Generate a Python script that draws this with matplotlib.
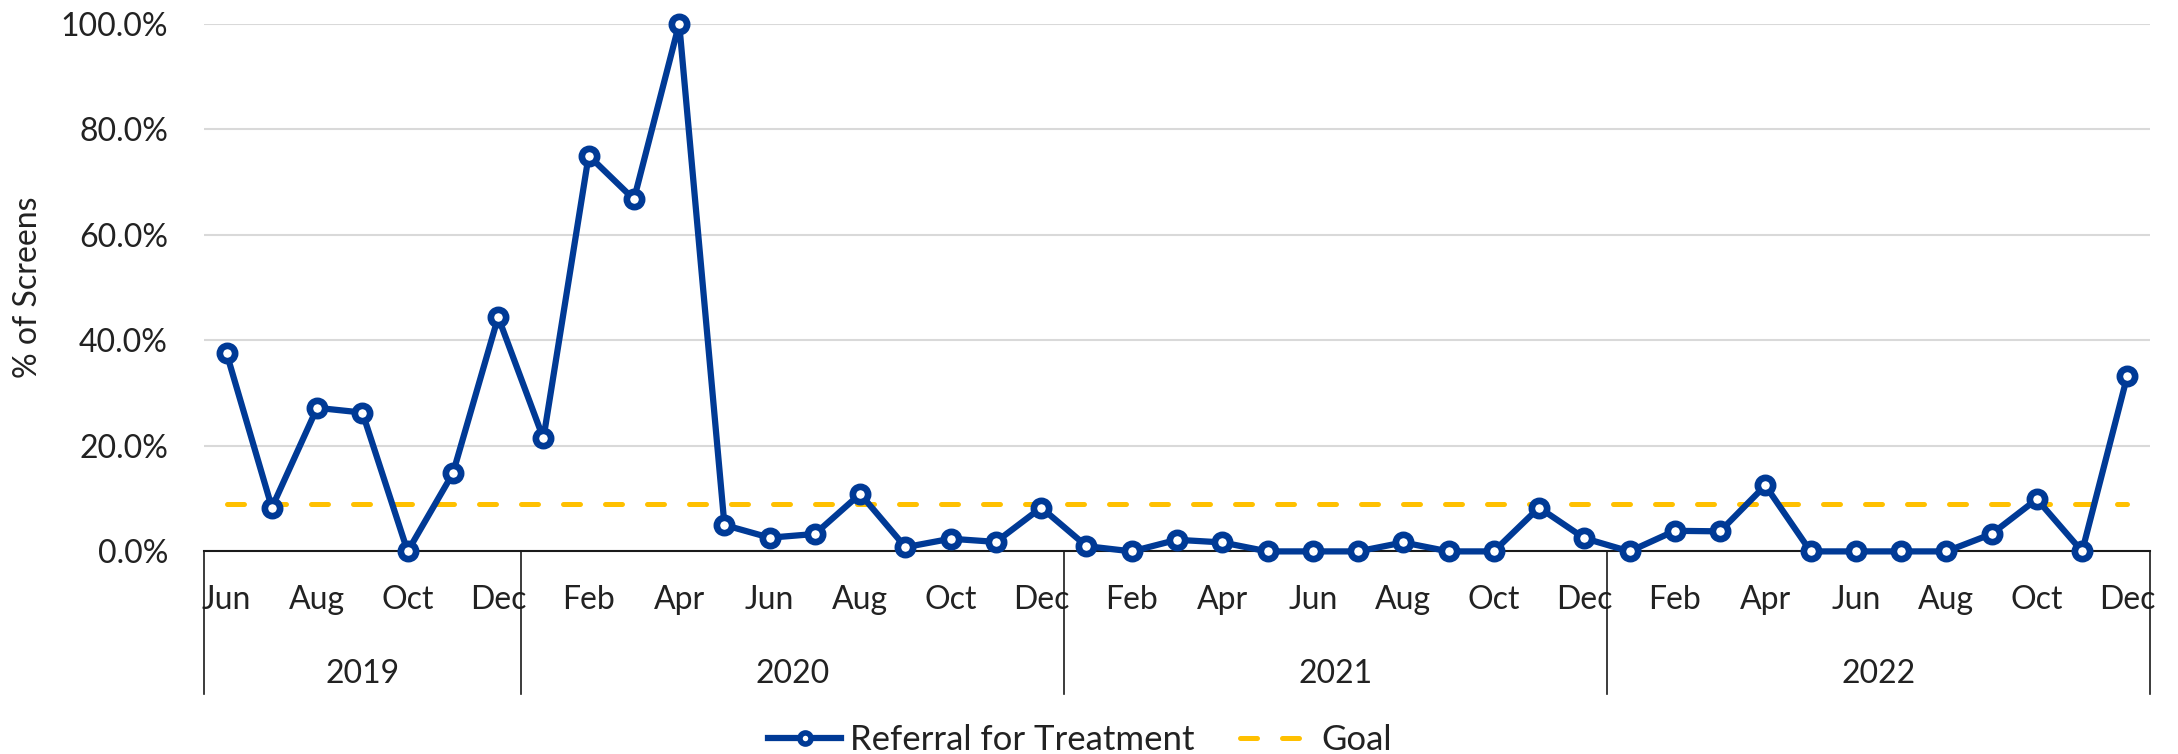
import matplotlib
matplotlib.use("Agg")
import matplotlib.pyplot as plt
import matplotlib.transforms as mtransforms
from matplotlib.lines import Line2D
from matplotlib.ticker import PercentFormatter

# ---- data ----
years = ["2019", "2020", "2021", "2022"]
months_per_year = [
    ["Jun", "Jul", "Aug", "Sep", "Oct", "Nov", "Dec"],
    ["Jan", "Feb", "Mar", "Apr", "May", "Jun", "Jul", "Aug", "Sep", "Oct", "Nov", "Dec"],
    ["Jan", "Feb", "Mar", "Apr", "May", "Jun", "Jul", "Aug", "Sep", "Oct", "Nov", "Dec"],
    ["Jan", "Feb", "Mar", "Apr", "May", "Jun", "Jul", "Aug", "Sep", "Oct", "Nov", "Dec"],
]
referral = [
    # 2019
    37.5, 8.3, 27.2, 26.3, 0.0, 14.8, 44.4,
    # 2020
    21.4, 75.0, 66.7, 100.0, 5.0, 2.6, 3.3, 10.9, 0.8, 2.4, 1.8, 8.3,
    # 2021
    1.0, 0.0, 2.2, 1.7, 0.0, 0.0, 0.0, 1.7, 0.0, 0.0, 8.3, 2.5,
    # 2022
    0.0, 3.9, 3.8, 12.5, 0.0, 0.0, 0.0, 0.0, 3.3, 9.9, 0.0, 33.3,
]
goal_value = 9.0
y_ticks = [0, 20, 40, 60, 80, 100]

months = [m for ms in months_per_year for m in ms]
n = len(months)
x = list(range(n))
goal = [goal_value] * n

BLUE = "#003A96"
GOLD = "#FFC000"
TEXT = "#222222"
FONT = ["Lato", "DejaVu Sans"]

plt.rcParams["font.family"] = FONT

W, H = 2178, 754
fig = plt.figure(figsize=(W / 100, H / 100), dpi=100)
left, right, top_px, bottom_px = 204, 2150, 23.6, 551.4
ax = fig.add_axes([left / W, 1 - bottom_px / H, (right - left) / W, (bottom_px - top_px) / H])

ax.plot(x, goal, color=GOLD, lw=3.6, dashes=(3.4, 5.0), dash_capstyle="round",
        zorder=2, label="Goal")
ax.plot(x, referral, color=BLUE, lw=4.5, marker="o", ms=11, mfc="white", mec=BLUE,
        mew=4.8, zorder=3, clip_on=False, label="Referral for Treatment")

ax.set_xlim(-0.5, n - 0.5)
ax.set_ylim(0, 100)
ax.set_yticks(y_ticks)
ax.yaxis.set_major_formatter(PercentFormatter(decimals=1))
ax.grid(axis="y", color="#D9D9D9", lw=1.5, zorder=0)
ax.set_axisbelow(True)
for s in ["left", "right", "top"]:
    ax.spines[s].set_visible(False)
ax.spines["bottom"].set_color("#1a1a1a")
ax.spines["bottom"].set_linewidth(1.5)
ax.tick_params(axis="y", length=0, pad=26, labelsize=23, labelcolor=TEXT)

# month labels every other month
xt = list(range(0, n, 2))
ax.set_xticks(xt)
ax.set_xticklabels([months[i] for i in xt])
ax.tick_params(axis="x", length=0, pad=24, labelsize=23, labelcolor=TEXT)

# year groups: separators and labels
trans = mtransforms.blended_transform_factory(ax.transData, ax.transAxes)
sep_depth = -(694 - bottom_px) / (bottom_px - top_px)
year_label_y = -(674 - bottom_px) / (bottom_px - top_px)
start = 0
bounds = [-0.5]
for yr, ms in zip(years, months_per_year):
    end = start + len(ms) - 1
    bounds.append(end + 0.5)
    ax.text((start + end) / 2, year_label_y, yr, transform=trans, ha="center",
            va="center", fontsize=23, color=TEXT)
    start = end + 1
for b in bounds:
    ax.add_line(Line2D([b, b], [0, sep_depth], transform=trans, color="#1a1a1a",
                       lw=1.2, clip_on=False))

fig.text(28 / W, 1 - 287.5 / H, "% of Screens", rotation=90, ha="center",
         va="center", fontsize=23, color=TEXT)

handles, labels = ax.get_legend_handles_labels()
order = [1, 0]
leg = fig.legend([handles[i] for i in order], [labels[i] for i in order], loc="center",
                 bbox_to_anchor=(1080 / W, 1 - 740 / H), ncol=2, frameon=False,
                 fontsize=25, labelcolor=TEXT, handlelength=2.1, columnspacing=1.3,
                 handletextpad=0.25, borderpad=0.1)
for h in leg.legend_handles:
    if h.get_marker() == "o":
        h.set_markersize(8)
        h.set_markeredgewidth(4)

fig.savefig("out.png", dpi=100)
